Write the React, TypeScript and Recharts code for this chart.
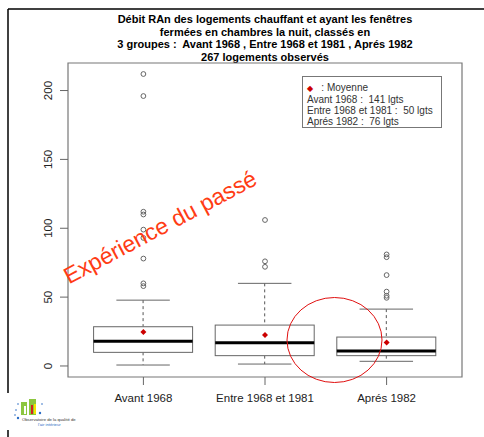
import {
  Bar,
  ComposedChart,
  ReferenceArea,
  Scatter,
  XAxis,
  YAxis,
} from "recharts";

const groups = ["Avant 1968", "Entre 1968 et 1981", "Aprés 1982"];
const counts = [141, 50, 76];
const q1 = [9.9, 7.5, 7.5];
const medians = [17.9, 16.9, 10.9];
const q3 = [28.5, 29.7, 21];
const whiskerLow = [0.7, 1.4, 3.4];
const whiskerHigh = [47.8, 60, 41.3];
const means = [24.6, 22.5, 17.1];
const outliers = [
  [212, 196, 112, 110, 99, 93, 78, 60, 58],
  [106, 76, 72],
  [81, 79, 66, 54, 51, 49.5],
];
const yTicks = [0, 50, 100, 150, 200];

const boxData = groups.map((name, i) => ({
  x: i + 1,
  name,
  q1: q1[i],
  median: medians[i],
  q3: q3[i],
  low: whiskerLow[i],
  high: whiskerHigh[i],
}));
const meanData = groups.map((_, i) => ({ x: i + 1, y: means[i] }));
const outlierData = outliers.flatMap((vals, i) =>
  vals.map((v) => ({ x: i + 1, y: v }))
);

const FONT = "'Liberation Sans', Arial, sans-serif";

function BoxShape(props: any) {
  const { x, y, width, height, payload } = props;
  const { q1, q3, median, low, high } = payload;
  const k = height / (q3 - q1);
  const py = (v: number) => y + (q3 - v) * k;
  const cx = x + width / 2;
  const cap = width * 0.27;
  return (
    <g>
      <line x1={cx} x2={cx} y1={py(high)} y2={y} stroke="#555" strokeDasharray="3 3" />
      <line x1={cx} x2={cx} y1={y + height} y2={py(low)} stroke="#555" strokeDasharray="3 3" />
      <line x1={cx - cap} x2={cx + cap} y1={py(high)} y2={py(high)} stroke="#666" />
      <line x1={cx - cap} x2={cx + cap} y1={py(low)} y2={py(low)} stroke="#666" />
      <rect x={x} y={y} width={width} height={height} fill="#fff" stroke="#666" />
      <line x1={x} x2={x + width} y1={py(median)} y2={py(median)} stroke="#000" strokeWidth={3} />
    </g>
  );
}

function Diamond(props: any) {
  const { cx, cy } = props;
  const r = 3;
  return (
    <polygon
      points={`${cx},${cy - r} ${cx + r},${cy} ${cx},${cy + r} ${cx - r},${cy}`}
      fill="#cc0000"
    />
  );
}

function OpenCircle(props: any) {
  const { cx, cy } = props;
  return <circle cx={cx} cy={cy} r={2.4} fill="none" stroke="#666" strokeWidth={1} />;
}

function YTick(props: any) {
  const { x, y, payload } = props;
  const tx = x - 6;
  return (
    <text
      x={tx}
      y={y}
      transform={`rotate(-90, ${tx}, ${y})`}
      textAnchor="middle"
      fontSize={11.5}
      fontFamily={FONT}
      fill="#222"
    >
      {payload.value}
    </text>
  );
}

export default function App() {
  return (
    <div
      style={{
        position: "absolute",
        left: 0,
        top: 0,
        width: 484,
        height: 437,
        background: "#fff",
        overflow: "hidden",
        fontFamily: FONT,
      }}
    >
      <div
        style={{
          position: "absolute",
          left: 68,
          top: 13,
          width: 394,
          textAlign: "center",
          fontWeight: "bold",
          fontSize: 11,
          lineHeight: "12.5px",
          color: "#000",
        }}
      >
        <div>Débit RAn des logements chauffant et ayant les fenêtres</div>
        <div>fermées en chambres la nuit, classés en</div>
        <div>3 groupes :&nbsp; Avant 1968 , Entre 1968 et 1981 , Aprés 1982</div>
        <div>267 logements observés</div>
      </div>

      <div style={{ position: "absolute", left: 0, top: 0 }}>
        <ComposedChart
          width={484}
          height={437}
          data={boxData}
          margin={{ top: 63, right: 22, left: 40, bottom: 30 }}
        >
          <XAxis
            dataKey="x"
            type="number"
            domain={[0.38, 3.62]}
            ticks={[1, 2, 3]}
            allowDataOverflow
            height={30}
            tickSize={8}
            tickMargin={9}
            axisLine={false}
            tickLine={{ stroke: "#666" }}
            tick={{ fontSize: 11.5, fill: "#222", fontFamily: FONT }}
            tickFormatter={(v) => groups[v - 1]}
          />
          <YAxis
            type="number"
            domain={[-8, 220]}
            ticks={yTicks}
            allowDataOverflow
            width={28}
            tickSize={8}
            axisLine={false}
            tickLine={{ stroke: "#666" }}
            tick={<YTick />}
          />
          <ReferenceArea
            x1={0.38}
            x2={3.62}
            y1={-8}
            y2={220}
            fill="none"
            stroke="#777"
            strokeWidth={1.2}
            ifOverflow="visible"
          />
          <Bar
            dataKey={(d: any) => [d.q1, d.q3]}
            barSize={99}
            shape={<BoxShape />}
            isAnimationActive={false}
          />
          <Scatter
            data={outlierData}
            dataKey="y"
            shape={<OpenCircle />}
            isAnimationActive={false}
          />
          <Scatter
            data={meanData}
            dataKey="y"
            shape={<Diamond />}
            isAnimationActive={false}
          />
        </ComposedChart>
      </div>

      <div
        style={{
          position: "absolute",
          left: 302,
          top: 76,
          width: 140,
          height: 52,
          border: "1px solid #777",
          fontSize: 10,
          lineHeight: "11px",
          color: "#333",
          padding: "5px 0 0 4px",
          boxSizing: "border-box",
          background: "#fff",
        }}
      >
        <div>
          <span style={{ color: "#cc0000", fontSize: 8 }}>◆</span>
          &nbsp;&nbsp; : Moyenne
        </div>
        {groups.map((g, i) => (
          <div key={g}>
            {g} :&nbsp; {counts[i]} lgts
          </div>
        ))}
      </div>

      <svg
        width={484}
        height={437}
        style={{ position: "absolute", left: 0, top: 0, pointerEvents: "none" }}
      >
        <line x1={8} y1={9} x2={484} y2={9} stroke="#000" strokeWidth={1.5} />
        <line x1={8} y1={9} x2={8} y2={393} stroke="#000" strokeWidth={1.5} />
        <line x1={8} y1={430} x2={8} y2={437} stroke="#000" strokeWidth={1.5} />
        <text
          x={160}
          y={227}
          transform="rotate(-28, 160, 227)"
          textAnchor="middle"
          dominantBaseline="central"
          fontSize={23}
          fontFamily={FONT}
          fill="#ff3c14"
        >
          Expérience du passé
        </text>
        <ellipse cx={334.5} cy={340} rx={47.5} ry={42.5} fill="none" stroke="#e01010" strokeWidth={1} />
        <g>
          <rect x={21} y={402} width={6} height={13} fill="#8cc63f" />
          <rect x={29} y={399} width={7} height={16} fill="#8cc63f" />
          <rect x={31} y={405} width={2} height={9} fill="#d62020" />
          <rect x={34} y={404} width={2} height={10} fill="#f2e600" />
          <rect x={24} y={406} width={2} height={8} fill="#ffffff" />
          <circle cx={16} cy={410} r={0.8} fill="#2a6cc4" />
          <circle cx={18} cy={404} r={0.8} fill="#2a6cc4" />
          <circle cx={15} cy={415} r={0.8} fill="#2a6cc4" />
          <circle cx={40} cy={413} r={1.2} fill="#2a6cc4" />
          <circle cx={42} cy={404} r={0.8} fill="#2a6cc4" />
          <circle cx={18} cy={418} r={1.2} fill="#2a6cc4" />
          <text x={22} y={421} fontSize={4.2} fontFamily={FONT} fill="#333">
            Observatoire de la qualité de
          </text>
          <text x={38} y={426} fontSize={4.2} fontFamily={FONT} fill="#2a6cc4">
            l'air intérieur
          </text>
        </g>
      </svg>
    </div>
  );
}
